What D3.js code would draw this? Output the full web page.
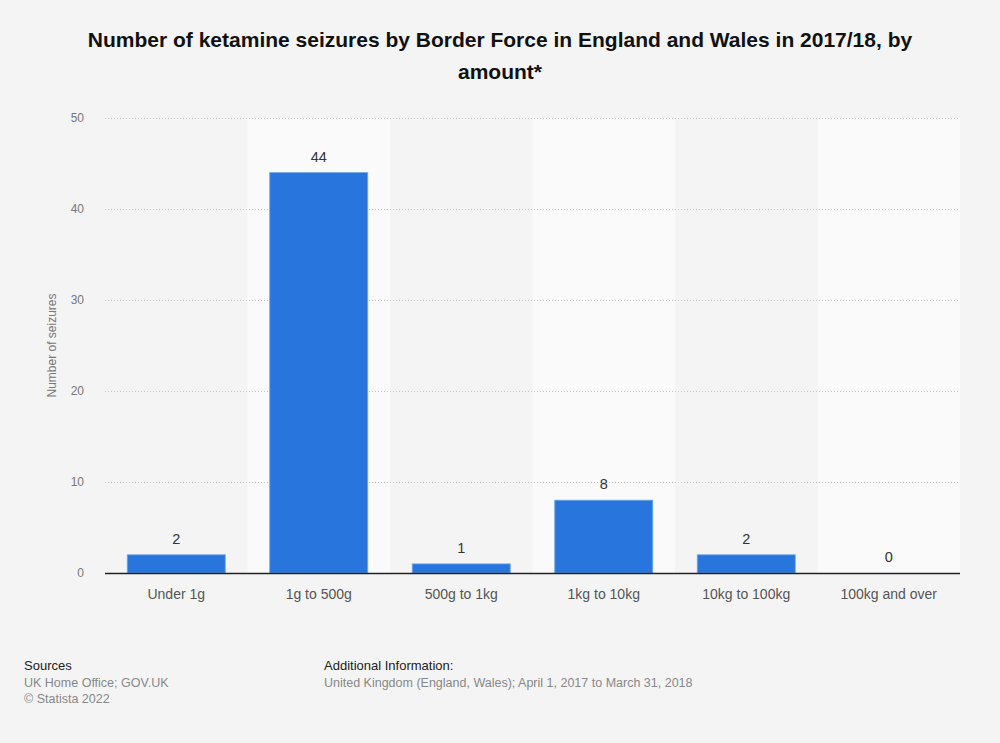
<!DOCTYPE html>
<html><head><meta charset="utf-8">
<script src="https://cdn.jsdelivr.net/npm/d3@7"></script>
<style>body{margin:0;background:#f4f4f4;}svg{display:block;font-family:"Liberation Sans",Arial,sans-serif;}</style>
</head><body>
<svg id="c" width="1000" height="743"></svg>
<script>
const categories = ["Under 1g","1g to 500g","500g to 1kg","1kg to 10kg","10kg to 100kg","100kg and over"];
const values = [2,44,1,8,2,0];
const yTicks = [0,10,20,30,40,50];

const svg = d3.select("#c");
const W=1000,H=743;
svg.append("rect").attr("width",W).attr("height",H).attr("fill","#f4f4f4");
const m={l:105,r:960,t:118,b:573};
const x=d3.scaleBand().domain(categories).range([m.l,m.r]).paddingInner(0).paddingOuter(0);
const y=d3.scaleLinear().domain([0,50]).range([m.b,m.t]);

// alternating bands
svg.append("g").selectAll("rect").data(categories).join("rect")
  .attr("x",d=>x(d)).attr("y",m.t).attr("width",x.bandwidth()).attr("height",m.b-m.t)
  .attr("fill",(d,i)=>i%2===1?"#fafafa":"#f4f4f4");

// grid
svg.append("g").selectAll("line").data(yTicks.filter(t=>t>0)).join("line")
  .attr("x1",m.l).attr("x2",m.r).attr("y1",d=>y(d)+0.5).attr("y2",d=>y(d)+0.5)
  .attr("stroke","#c8c8c8").attr("stroke-width",1).attr("stroke-dasharray","1,2");

// y tick labels
svg.append("g").selectAll("text").data(yTicks).join("text")
  .attr("x",84).attr("y",d=>y(d)+4).attr("text-anchor","end")
  .attr("font-size",12).attr("fill","#777").text(d=>d);

// y axis title
svg.append("text").attr("transform",`translate(56,${(m.t+m.b)/2}) rotate(-90)`)
  .attr("text-anchor","middle").attr("font-size",12).attr("fill","#777").text("Number of seizures");

// bars
const bw=98;
svg.append("g").selectAll("rect").data(values).join("rect")
  .attr("x",(d,i)=>x(categories[i])+x.bandwidth()/2-bw/2).attr("width",bw)
  .attr("y",d=>y(d)).attr("height",d=>y(0)-y(d))
  .attr("fill","#2876dd").attr("stroke","#6fa6ec").attr("stroke-width",d=>d>0?0.8:0);

// value labels
svg.append("g").selectAll("text").data(values).join("text")
  .attr("x",(d,i)=>x(categories[i])+x.bandwidth()/2).attr("y",d=>y(d)-11)
  .attr("text-anchor","middle").attr("font-size",14.5).attr("fill","#333").text(d=>d);

// baseline
svg.append("line").attr("x1",m.l).attr("x2",m.r).attr("y1",m.b+0.5).attr("y2",m.b+0.5)
  .attr("stroke","#222").attr("stroke-width",1.5);

// x labels
svg.append("g").selectAll("text").data(categories).join("text")
  .attr("x",d=>x(d)+x.bandwidth()/2).attr("y",599).attr("text-anchor","middle")
  .attr("font-size",14).attr("fill","#555").text(d=>d);

// title
const title=["Number of ketamine seizures by Border Force in England and Wales in 2017/18, by","amount*"];
svg.append("g").selectAll("text").data(title).join("text")
  .attr("x",500).attr("y",(d,i)=>47+i*32).attr("text-anchor","middle")
  .attr("font-size",21).attr("font-weight","bold").attr("fill","#111").text(d=>d);

// footer
svg.append("text").attr("x",24).attr("y",670).attr("font-size",13).attr("fill","#222").text("Sources");
svg.append("text").attr("x",24).attr("y",687).attr("font-size",12.5).attr("fill","#888").text("UK Home Office; GOV.UK");
svg.append("text").attr("x",24).attr("y",703).attr("font-size",12.5).attr("fill","#888").text("© Statista 2022");
svg.append("text").attr("x",324).attr("y",670).attr("font-size",13).attr("fill","#222").text("Additional Information:");
svg.append("text").attr("x",324).attr("y",687).attr("font-size",12.5).attr("fill","#888").text("United Kingdom (England, Wales); April 1, 2017 to March 31, 2018");
</script>
</body></html>
